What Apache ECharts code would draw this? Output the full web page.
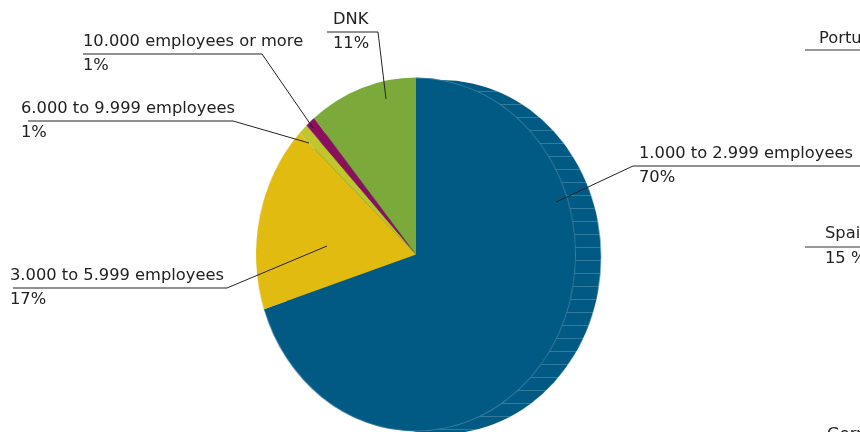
<!DOCTYPE html>
<html><head><meta charset="utf-8">
<script src="https://cdn.jsdelivr.net/npm/echarts@6/dist/echarts.min.js"></script>
<style>
html,body{margin:0;padding:0;background:#fff;overflow:hidden}
#wrap{position:relative;width:860px;height:432px;overflow:hidden}
#pie{position:absolute;left:0;top:0;width:860px;height:432px;transform:scaleX(0.904);transform-origin:416px 50%}
#labels{position:absolute;left:0;top:0;width:860px;height:432px}
</style></head><body>
<div id="wrap"><div id="pie"></div><div id="labels"></div></div>
<script>
// ---- data ----
const categories = ['1.000 to 2.999 employees','3.000 to 5.999 employees','6.000 to 9.999 employees','10.000 employees or more','DNK'];
const shares = [70, 17, 1, 1, 11];
const sliceColors = ['#005a84','#e2bb10','#c0c62c','#8b0f5d','#7caa3a'];
const otherNames = ['Portugal','Spain','Germany'];
const otherValues = ['', '15 %', ''];

const FONT = '"DejaVu Sans", sans-serif';
const FS = 16.3;
const TXT = '#222';

// ---- pie body (scaled horizontally into an ellipse) ----
const A = echarts.init(document.getElementById('pie'));
A.setOption({
  animation: false,
  series: [
    { // side of the disc
      type: 'pie', center: [443.7, 257], radius: 177, startAngle: 90, silent: true, z: 1,
      label: {show: false}, labelLine: {show: false},
      itemStyle: {color: sliceColors[0], borderWidth: 0,
        decal: {symbol: 'rect', symbolSize: 1, symbolKeepAspect: false, color: 'rgba(255,255,255,0.2)',
                dashArrayX: [300, 0], dashArrayY: [1, 12], rotation: 0}},
      data: categories.map((c, i) => ({name: c, value: shares[i]}))
    },
    { // top face
      type: 'pie', center: [416, 254.5], radius: 177, startAngle: 90, silent: true, z: 2,
      label: {show: false}, labelLine: {show: false},
      itemStyle: {borderWidth: 0},
      data: categories.map((c, i) => ({name: c, value: shares[i], itemStyle: {color: sliceColors[i]}}))
    },
    { // faint rim of top face over the side
      type: 'pie', center: [416, 254.5], radius: [176, 177], startAngle: 90, silent: true, z: 3,
      label: {show: false}, labelLine: {show: false},
      itemStyle: {borderWidth: 0},
      data: categories.map((c, i) => ({name: c, value: shares[i],
        itemStyle: {color: i === 0 ? 'rgba(255,255,255,0.22)' : 'rgba(0,0,0,0)'}}))
    }
  ]
});

// ---- labels overlay ----
const layout = [
  {x: 639, y: 166, pts: [[556, 202], [633, 166], [862, 166]]},
  {x: 10,  y: 288, pts: [[327, 246], [227, 288], [13, 288]]},
  {x: 21,  y: 121, pts: [[309, 143], [233, 121], [28, 121]]},
  {x: 83,  y: 54,  pts: [[313, 128], [262, 54], [83, 54]]},
  {x: 333, y: 32,  pts: [[386, 99], [378, 32], [327, 32]]}
];
const otherPos = [
  {x: 819, y: 39, line: [805, 50]},
  {x: 825, y: 234, line: [805, 247]},
  {x: 827, y: 435, line: [805, 448]}
];
const graphics = [];
otherNames.forEach((n, i) => {
  const p = otherPos[i];
  graphics.push({type: 'text', x: p.x, y: p.y, style: {text: n, font: FS + 'px ' + FONT, fill: TXT, verticalAlign: 'middle', align: 'left'}});
  graphics.push({type: 'line', shape: {x1: p.line[0], y1: p.line[1], x2: 862, y2: p.line[1]}, style: {stroke: '#333', lineWidth: 1}});
  if (otherValues[i]) graphics.push({type: 'text', x: p.x, y: p.line[1] + 12, style: {text: otherValues[i], font: FS + 'px ' + FONT, fill: TXT, verticalAlign: 'middle', align: 'left'}});
});

const B = echarts.init(document.getElementById('labels'));
B.setOption({
  animation: false,
  graphic: graphics,
  series: [{
    type: 'pie', center: [416, 254.5], radius: 177, startAngle: 90, silent: true,
    itemStyle: {color: 'rgba(0,0,0,0)', borderWidth: 0},
    data: categories.map((c, i) => ({name: c, value: shares[i]})),
    label: {
      show: true, position: 'outside', color: TXT, fontFamily: FONT, fontSize: FS, lineHeight: 24,
      width: 320, overflow: 'none',
      formatter: p => '{n|' + p.name + '}\n{v|' + Math.round(p.percent) + '%}',
      rich: {n: {color: TXT, fontFamily: FONT, fontSize: FS, lineHeight: 24}, v: {color: TXT, fontFamily: FONT, fontSize: FS, lineHeight: 24}}
    },
    labelLine: {show: true, lineStyle: {color: '#222', width: 1}},
    labelLayout: p => {
      const L = layout[p.dataIndex];
      return {x: L.x, y: L.y, align: 'left', verticalAlign: 'middle', labelLinePoints: L.pts, hideOverlap: false, moveOverlap: false};
    }
  }]
});
</script>
</body></html>
